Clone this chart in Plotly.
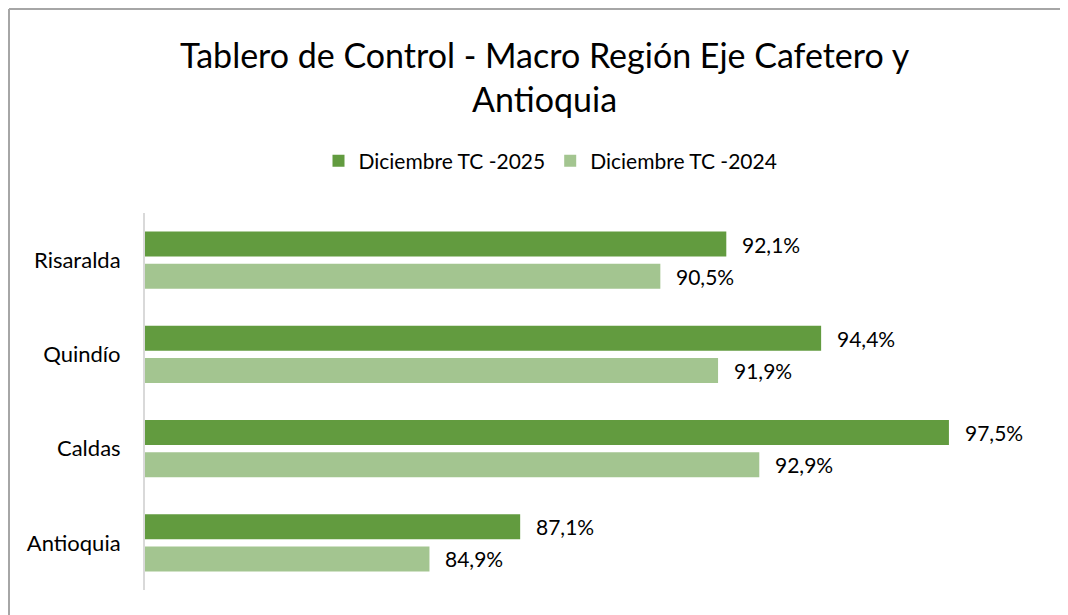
import plotly.graph_objects as go

categories = ["Antioquia", "Caldas", "Quindío", "Risaralda"]
values_2025 = [87.1, 97.5, 94.4, 92.1]
values_2024 = [84.9, 92.9, 91.9, 90.5]
series_names = ["Diciembre TC -2025", "Diciembre TC -2024"]
title_text = "Tablero de Control - Macro Región Eje Cafetero y<br>Antioquia"

DARK = "#629B3F"
LIGHT = "#A3C590"
FONT = "Lato"

W, H = 1060, 607
L, T, PW, PH = 137, 205, 907, 377
R = W - L - PW
B = H - T - PH


def fmt(v):
    return f"{v:.1f}%".replace(".", ",")


fig = go.Figure()
fig.add_trace(go.Bar(
    y=categories, x=values_2024, orientation="h", name=series_names[1],
    marker=dict(color=LIGHT, line=dict(width=0)), legendrank=2,
    hoverinfo="skip",
))
fig.add_trace(go.Bar(
    y=categories, x=values_2025, orientation="h", name=series_names[0],
    marker=dict(color=DARK, line=dict(width=0)), legendrank=1,
    hoverinfo="skip",
))

annotations = []
for c, v in zip(categories, values_2025):
    annotations.append(dict(x=v, y=c, xref="x", yref="y", text=fmt(v), showarrow=False,
                            xanchor="left", xshift=14, yshift=16,
                            font=dict(family=FONT, size=21, color="#000")))
for c, v in zip(categories, values_2024):
    annotations.append(dict(x=v, y=c, xref="x", yref="y", text=fmt(v), showarrow=False,
                            xanchor="left", xshift=14, yshift=-16,
                            font=dict(family=FONT, size=21, color="#000")))

# title as annotation for precise placement
annotations.append(dict(text=title_text, xref="paper", yref="paper",
                        x=(537 - L) / PW, y=(T + PH - 68.5) / PH,
                        xanchor="center", yanchor="middle", showarrow=False,
                        font=dict(family=FONT, size=34, color="#000")))

frame_left = (1 - L) / PW
frame_top = (T + PH - 1) / PH
frame_right = (W - L) / PW
frame_bottom = (T + PH - H) / PH

fig.update_layout(
    width=W, height=H,
    paper_bgcolor="white", plot_bgcolor="white",
    margin=dict(l=L, r=R, t=T, b=B, autoexpand=False),
    barmode="group", bargap=0.32, bargroupgap=0.22,
    font=dict(family=FONT, size=21, color="#000"),
    showlegend=True,
    legend=dict(orientation="h", x=542.5 / W, xanchor="center", xref="container",
                y=1 - 153 / H, yanchor="middle", yref="container",
                font=dict(family=FONT, size=21, color="#000"),
                itemsizing="constant", itemwidth=30, traceorder="normal"),
    xaxis=dict(range=[78, 100], showgrid=False, zeroline=False, showticklabels=False,
               ticks="", showline=False, fixedrange=True),
    yaxis=dict(showgrid=False, zeroline=False, ticks="", showline=True,
               linecolor="#D9D9D9", linewidth=2, ticklabelstandoff=18,
               tickfont=dict(family=FONT, size=22, color="#000")),
    annotations=annotations,
    shapes=[
        dict(type="line", xref="paper", yref="paper",
             x0=frame_left, x1=frame_left, y0=frame_bottom, y1=frame_top,
             line=dict(color="#A6A6A6", width=2), layer="below"),
        dict(type="line", xref="paper", yref="paper",
             x0=frame_left, x1=frame_right, y0=frame_top, y1=frame_top,
             line=dict(color="#A6A6A6", width=2), layer="below"),
    ],
)

fig.write_html("out.html")
